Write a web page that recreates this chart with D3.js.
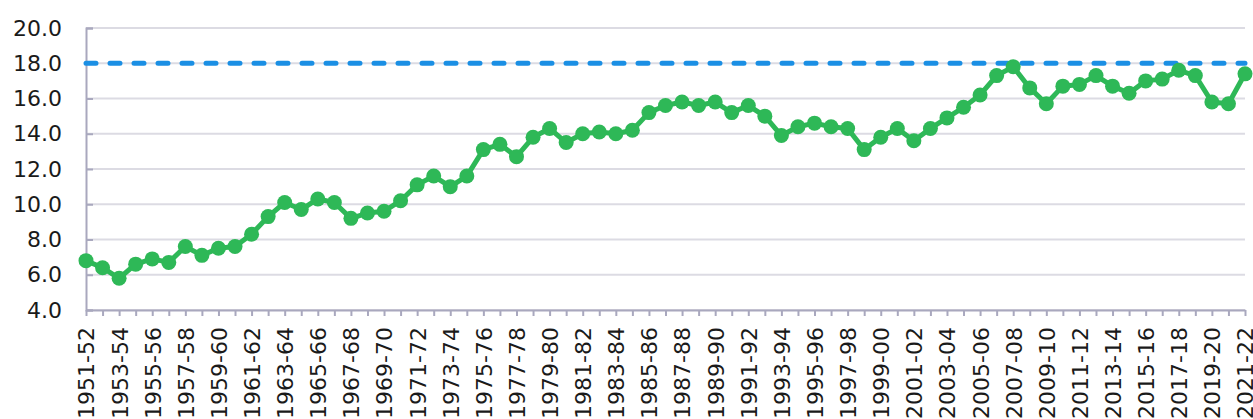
<!DOCTYPE html>
<html>
<head>
<meta charset="utf-8">
<script src="https://cdn.jsdelivr.net/npm/d3@7"></script>
<style>
  body { margin: 0; background: #fff; }
  svg text { font-family: "DejaVu Sans", Verdana, sans-serif; fill: #1a1a1a; }
</style>
</head>
<body>
<svg id="chart"></svg>
<script>
// Seasons (categories)
const seasons = [
  '1951-52','1952-53','1953-54','1954-55','1955-56','1956-57','1957-58','1958-59','1959-60','1960-61',
  '1961-62','1962-63','1963-64','1964-65','1965-66','1966-67','1967-68','1968-69','1969-70','1970-71',
  '1971-72','1972-73','1973-74','1974-75','1975-76','1976-77','1977-78','1978-79','1979-80','1980-81',
  '1981-82','1982-83','1983-84','1984-85','1985-86','1986-87','1987-88','1988-89','1989-90','1990-91',
  '1991-92','1992-93','1993-94','1994-95','1995-96','1996-97','1997-98','1998-99','1999-00','2000-01',
  '2001-02','2002-03','2003-04','2004-05','2005-06','2006-07','2007-08','2008-09','2009-10','2010-11',
  '2011-12','2012-13','2013-14','2014-15','2015-16','2016-17','2017-18','2018-19','2019-20','2020-21',
  '2021-22'
];

// Series values
const values = [
  6.8, 6.4, 5.8, 6.6, 6.9, 6.7, 7.6, 7.1, 7.5, 7.6,
  8.3, 9.3, 10.1, 9.7, 10.3, 10.1, 9.2, 9.5, 9.6, 10.2,
  11.1, 11.6, 11.0, 11.6, 13.1, 13.4, 12.7, 13.8, 14.3, 13.5,
  14.0, 14.1, 14.0, 14.2, 15.2, 15.6, 15.8, 15.6, 15.8, 15.2,
  15.6, 15.0, 13.9, 14.4, 14.6, 14.4, 14.3, 13.1, 13.8, 14.3,
  13.6, 14.3, 14.9, 15.5, 16.2, 17.3, 17.8, 16.6, 15.7, 16.7,
  16.8, 17.3, 16.7, 16.3, 17.0, 17.1, 17.6, 17.3, 15.8, 15.7,
  17.4
];

// Reference line
const target = 18;

// Y tick labels
const yTicks = [4, 6, 8, 10, 12, 14, 16, 18, 20];

const config = {
  containerWidth: 1253,
  containerHeight: 419,
  margin: { top: 28, right: 8, bottom: 109, left: 86 }
};

const width = config.containerWidth - config.margin.left - config.margin.right;
const height = config.containerHeight - config.margin.top - config.margin.bottom;

const svg = d3.select('#chart')
  .attr('width', config.containerWidth)
  .attr('height', config.containerHeight);

const chart = svg.append('g')
  .attr('transform', `translate(${config.margin.left},${config.margin.top})`);

// Scales
const xScale = d3.scalePoint()
  .domain(seasons)
  .range([0, width]);

const yScale = d3.scaleLinear()
  .domain([4, 20])
  .range([height, 0]);

// Gridlines
chart.append('g')
  .selectAll('line')
  .data(yTicks)
  .join('line')
  .attr('x1', 0)
  .attr('x2', width)
  .attr('y1', d => yScale(d))
  .attr('y2', d => yScale(d))
  .attr('stroke', '#dcdbe3')
  .attr('stroke-width', 2);

// Y axis: ticks point inwards, labels on the left
const yAxis = d3.axisLeft(yScale)
  .tickValues(yTicks)
  .tickSize(-7)
  .tickPadding(24)
  .tickFormat(d3.format('.1f'));

const yAxisG = chart.append('g').call(yAxis);
yAxisG.select('.domain').attr('stroke', '#a9a8be').attr('stroke-width', 2);
yAxisG.selectAll('.tick line').attr('stroke', '#a9a8be').attr('stroke-width', 2);
yAxisG.selectAll('.tick text').attr('font-size', 22).attr('fill', '#1a1a1a');

// X axis
const xAxis = d3.axisBottom(xScale)
  .tickSize(6)
  .tickSizeOuter(0)
  .tickFormat((d, i) => i % 2 === 0 ? d : '');

const xAxisG = chart.append('g')
  .attr('transform', `translate(0,${height})`)
  .call(xAxis);
xAxisG.select('.domain').attr('stroke', '#a9a8be').attr('stroke-width', 2);
xAxisG.selectAll('.tick line').attr('stroke', '#a9a8be').attr('stroke-width', 2);
xAxisG.selectAll('.tick text')
  .attr('font-size', 22)
  .attr('fill', '#1a1a1a')
  .attr('transform', 'rotate(-90)')
  .attr('text-anchor', 'end')
  .attr('x', -17)
  .attr('y', 0)
  .attr('dy', '0.36em');

// Dashed target line
chart.append('line')
  .attr('x1', 0)
  .attr('x2', width)
  .attr('y1', yScale(target))
  .attr('y2', yScale(target))
  .attr('stroke', '#1b8fe4')
  .attr('stroke-width', 5)
  .attr('stroke-linecap', 'round')
  .attr('stroke-dasharray', '10,14');

// Series line
const line = d3.line()
  .x((d, i) => xScale(seasons[i]))
  .y(d => yScale(d));

chart.append('path')
  .datum(values)
  .attr('d', line)
  .attr('fill', 'none')
  .attr('stroke', '#2eb857')
  .attr('stroke-width', 5)
  .attr('stroke-linejoin', 'round');

// Markers
chart.append('g')
  .selectAll('circle')
  .data(values)
  .join('circle')
  .attr('cx', (d, i) => xScale(seasons[i]))
  .attr('cy', d => yScale(d))
  .attr('r', 7.5)
  .attr('fill', '#2eb857');
</script>
</body>
</html>
